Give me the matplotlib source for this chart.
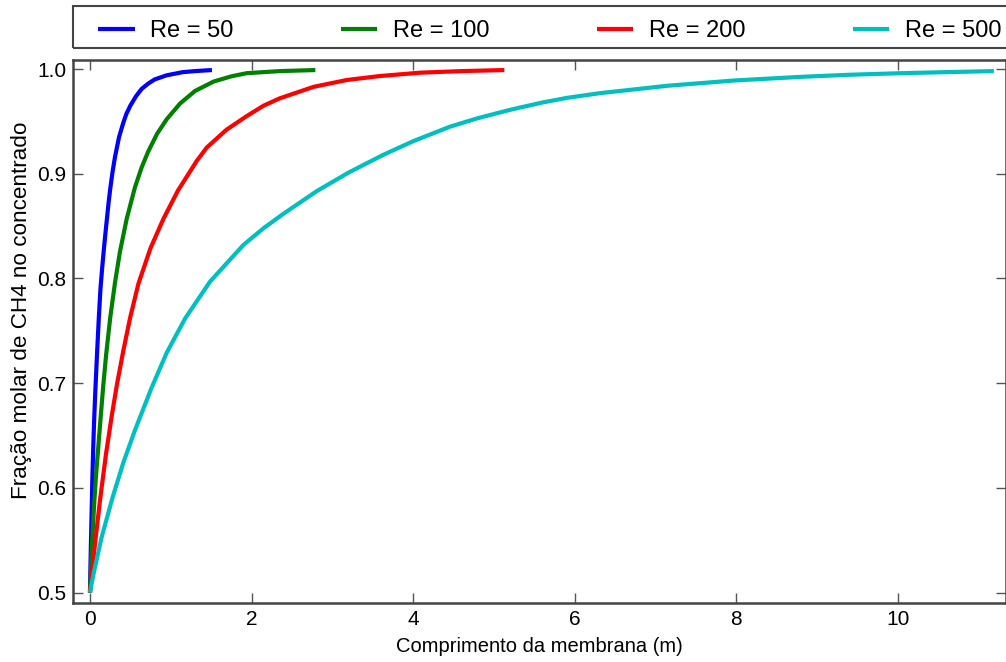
import matplotlib
matplotlib.use("Agg")
import matplotlib.pyplot as plt
from matplotlib.patches import Rectangle

plt.rcParams['font.family'] = ['Liberation Sans', 'DejaVu Sans']

# Valores (comprimento em m, fração molar de CH4)
x_re50 = [0, 0.01, 0.02, 0.03, 0.041, 0.052, 0.065, 0.078, 0.09, 0.11, 0.13, 0.15, 0.17, 0.19, 0.21,
          0.23, 0.25, 0.28, 0.31, 0.36, 0.41, 0.45, 0.50, 0.57, 0.64, 0.72, 0.80, 0.95, 1.15, 1.30, 1.51]
y_re50 = [0.5, 0.54, 0.575, 0.61, 0.64, 0.665, 0.69, 0.712, 0.732, 0.763, 0.79, 0.809, 0.826, 0.842, 0.857,
          0.872, 0.885, 0.902, 0.916, 0.935, 0.948, 0.957, 0.965, 0.974, 0.981, 0.986, 0.990, 0.994, 0.997, 0.998, 0.999]

x_re100 = [0, 0.025, 0.05, 0.075, 0.10, 0.13, 0.165, 0.20, 0.25, 0.31, 0.37, 0.455, 0.557, 0.64, 0.72,
           0.83, 0.95, 1.115, 1.30, 1.53, 1.75, 1.94, 2.35, 2.79]
y_re100 = [0.5, 0.545, 0.582, 0.612, 0.636, 0.665, 0.698, 0.727, 0.762, 0.796, 0.825, 0.857, 0.887, 0.906, 0.921,
           0.938, 0.952, 0.967, 0.979, 0.988, 0.993, 0.996, 0.998, 0.999]

x_re200 = [0, 0.06, 0.124, 0.198, 0.268, 0.33, 0.413, 0.496, 0.6, 0.75, 0.91, 1.09, 1.32, 1.446, 1.69,
           1.94, 2.15, 2.35, 2.77, 3.18, 3.59, 4.09, 4.6, 5.13]
y_re200 = [0.5, 0.545, 0.588, 0.632, 0.668, 0.697, 0.731, 0.762, 0.795, 0.829, 0.857, 0.884, 0.912, 0.925, 0.942,
           0.955, 0.965, 0.972, 0.983, 0.9895, 0.9933, 0.9965, 0.998, 0.999]

x_re500 = [0, 0.05, 0.145, 0.277, 0.413, 0.557, 0.76, 0.95, 1.18, 1.487, 1.90, 2.15, 2.40, 2.81, 3.2, 3.63,
           4.0, 4.46, 4.8, 5.2, 5.6, 5.91, 6.32, 7.15, 7.97, 8.8, 9.4, 10.04, 10.6, 11.19]
y_re500 = [0.5, 0.52, 0.553, 0.59, 0.624, 0.655, 0.695, 0.729, 0.762, 0.797, 0.832, 0.848, 0.862, 0.8835, 0.901, 0.918,
           0.931, 0.945, 0.953, 0.961, 0.968, 0.9725, 0.977, 0.984, 0.989, 0.9925, 0.9945, 0.996, 0.997, 0.998]

labels = ['Re = 50', 'Re = 100', 'Re = 200', 'Re = 500']
colors = ['#0000ff', '#008000', '#ff0000', '#00bfbf']

W, H = 1006, 662
fig = plt.figure(figsize=(W / 100, H / 100), dpi=100)
ax = fig.add_axes([73 / W, 1 - 603 / H, 1 - 73 / W, (603 - 60) / H])

series = [(x_re50, y_re50), (x_re100, y_re100), (x_re200, y_re200), (x_re500, y_re500)]
for (xs, ys), lab, c in zip(series, labels, colors):
    ax.plot(xs, ys, color=c, lw=3, label=lab, solid_capstyle='butt')

ax.set_xlim(-0.21, 11.34)
ax.set_ylim(0.49, 1.0086)
ax.set_xticks([0, 2, 4, 6, 8, 10])
ax.set_yticks([0.5, 0.6, 0.7, 0.8, 0.9, 1.0])
ax.set_yticklabels(['0.5', '0.6', '0.7', '0.8', '0.9', '1.0'])

ax.tick_params(direction='in', top=True, right=True, length=7, width=1,
               color='#555555', labelsize=15, pad=5)
for s in ax.spines.values():
    s.set_linewidth(1.8)
    s.set_color('#444444')

ax.set_xlabel('Comprimento da membrana (m)', fontsize=14.5, labelpad=6)
ax.set_ylabel('Fração molar de CH4 no concentrado', fontsize=16.2)
ax.yaxis.set_label_coords(-0.044, 0.54)

# legenda em cima, numa caixa que vai até à borda direita
leg = ax.legend(loc='center left', bbox_to_anchor=(98 / W, 1 - 52 / H, (1001 - 98) / W, 42 / H),
                bbox_transform=fig.transFigure, mode='expand', ncol=4, fontsize=17,
                frameon=False, borderaxespad=0, borderpad=0,
                handlelength=1.55, handletextpad=0.65)
box = Rectangle((73 / W, 1 - 48 / H), (1012 - 73) / W, 42 / H, transform=fig.transFigure,
                fill=False, edgecolor='#444444', lw=1.5, clip_on=False)
fig.add_artist(box)

fig.savefig('out.png', dpi=100)
